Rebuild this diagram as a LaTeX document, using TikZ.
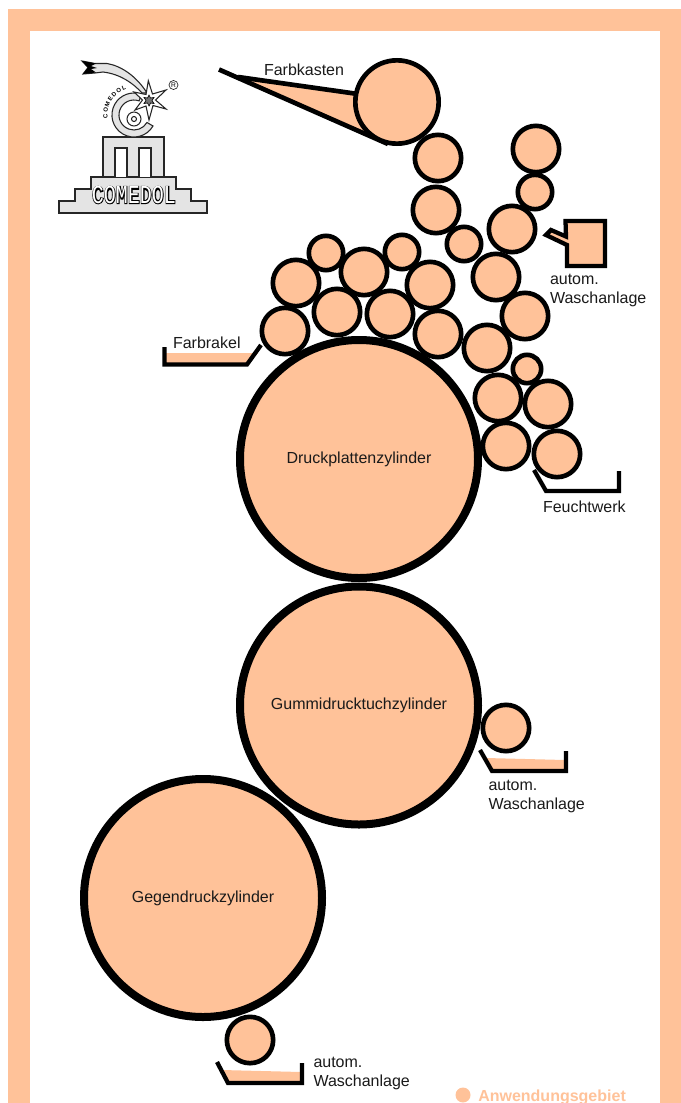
\documentclass[tikz,border=0pt]{standalone}
\usetikzlibrary{decorations.text}
\usepackage{fontspec}
\setmainfont{Liberation Sans}
\newfontfamily\logoout[FakeBold=4]{Liberation Mono}
\newfontfamily\logoin{Liberation Mono}
\definecolor{peach}{HTML}{FFC299}
\definecolor{logogray}{HTML}{E4E4E4}
\definecolor{ink}{HTML}{1A1A1A}
\tikzset{
  x=0.75pt,y=-0.75pt,
  roller/.style={circle,draw=black,fill=peach,line width=3.5pt,minimum size=#1*0.75pt-3.5pt,inner sep=0pt,outer sep=0pt},
  bigroller/.style={circle,draw=black,fill=peach,line width=6pt,minimum size=#1*0.75pt-6pt,inner sep=0pt,outer sep=0pt,text=ink,font=\fontsize{12pt}{14pt}\selectfont},
  lbl/.style={font=\fontsize{12pt}{14pt}\selectfont,text=ink,inner sep=0pt,outer sep=0pt},
  lbl2/.style={lbl,align=left,anchor=north west},
  trough/.style={draw=black,line width=3.2pt,line join=miter,line cap=butt},
  liquid/.style={fill=peach,draw=none},
  lg/.style={draw=black!85,fill=logogray,line width=0.8pt},
  lw/.style={draw=black!85,fill=white,line width=0.8pt},
  logoword/.style={inner sep=0pt,yscale=1.3,transform shape},
}
\begin{document}
\begin{tikzpicture}
\useasboundingbox (0,0) rectangle (681,1103);
% frame
\fill[peach] (8,9) rectangle (681,1103);
\fill[white] (30,31) rectangle (660,1103);

% logo
\path[lg] (59,213) -- (59,201) -- (75,201) -- (75,189) -- (91,189) -- (91,177) -- (176,177) -- (176,189) -- (191,189) -- (191,201) -- (207,201) -- (207,213) -- cycle;
\path[lg] (103,177) -- (103,137) -- (164,137) -- (164,177) -- cycle;
\path[lw] (115,177) -- (115,148) -- (127,148) -- (127,177);
\path[lw] (139,177) -- (139,148) -- (151,148) -- (151,177);
\node[logoword,font=\logoout\bfseries\fontsize{15pt}{16pt}\selectfont,text=black] (logoA) at (134,195) {COMEDOL};
\node[logoword,font=\logoin\fontsize{15pt}{16pt}\selectfont,text=white] (logoB) at (134,195) {COMEDOL};
% C emblem
\path[lg] (153,126) arc (30:290:22) -- (139.1,100.9) arc (290:30:15) -- cycle;
\draw[black!85,line width=0.8pt,fill=white] (134,119) circle (7);
\draw[black!85,line width=0.8pt,fill=white] (134,119) circle (2.5);
\path[decorate,decoration={text along path,text align={fit to path},text={|\fontsize{4.5pt}{5pt}\selectfont\bfseries|COMEDOL}}] (107.6,118.2) arc (173:253:26.6);
% comet tail
\path[lg] (82,61) -- (95,63.5) -- (107,63.5) .. controls (122,66) and (137,77) .. (147,93) -- (142,93) .. controls (133,83) and (120,74) .. (103,72) -- (95,73) -- (83,74) -- (88,67.5) -- cycle;
\fill[black] (82,61) -- (96,63.5) -- (91,66) -- (97,68) -- (91,69) -- (96,72.5) -- (83,74) -- (88,67.5) -- cycle;
% star
\path[lw] (148.3,80.7) -- (152.5,94) -- (166,90) -- (155.5,100) -- (166,109) -- (153,105.5) -- (149,120) -- (146,106) -- (135,110) -- (142.5,100) -- (134,92) -- (146,94.5) -- cycle;
\path[draw=black,fill=black!55,line width=0.5pt] (149,95) -- (150.5,98) -- (154,97.5) -- (152,100.5) -- (154,103.5) -- (150.5,103) -- (149,106) -- (147.5,103) -- (144,103.5) -- (146,100.5) -- (144,97.5) -- (147.5,98) -- cycle;
\draw[black!85,line width=0.5pt] (173.5,85) circle (4.5);
\node[inner sep=0pt,font=\fontsize{5pt}{5pt}\selectfont,text=black] (reg) at (173.5,85) {R};

% Farbkasten
\coordinate (fkTip) at (219,69.5);
\coordinate (fkA) at (238,77);
\coordinate (fkB) at (358,94);
\coordinate (fkC) at (388,144);
\path[liquid] (fkA) -- (fkB) -- (fkC) -- cycle;
\draw[black,line width=3.5pt] (fkTip) -- (fkC);
\draw[black,line width=3.5pt] (fkA) -- (fkB);
\node[lbl,anchor=west] (farbkasten) at (264,69.5) {Farbkasten};

% Waschanlage upper: box
\draw[trough,fill=peach] (565.5,221) -- (605,221) -- (605,266) -- (567,266) -- (567,245) -- (546,235) -- (551,230) -- (566,236.5) -- cycle;
\node[lbl2] (wasch1) at (550,274) {autom.\\Waschanlage};

% Farbrakel
\path[liquid] (165,353) -- (258,353) -- (247,364) -- (165,364) -- cycle;
\coordinate (frA) at (164.5,347);
\coordinate (frB) at (164.5,364.5);
\coordinate (frC) at (247,364.5);
\coordinate (frD) at (261,345);
\draw[trough] (frA) -- (frB) -- (frC) -- (frD);
\node[lbl,anchor=west] (farbrakel) at (173,342.5) {Farbrakel};

% Rollers
\foreach \n/\xx/\yy/\d in {
 a/438/158/51, b/436/210/51, c/464/244/39, d/512/229/51, e/535/192/39, f/536/149/51,
 g/496/277/51, h/525/316/51, i/487/348/51, j/527/369/33, k/498/398/51, l/548/404/51,
 m/506/446/51, n/557/454/51,
 o/326/253/39, p/402/252/39, q/296/283/51, r/364/272/51, s/430/285/51, t/337/312/51,
 u/390/314/51, v/438/334/51, w/285/331/51}
 {\node[roller=\d] (r\n) at (\xx,\yy) {};}
\node[roller=88] (fk) at (397,102) {};

\node[bigroller=246] (druck) at (359,459) {Druckplattenzylinder};
\node[bigroller=246] (gummi) at (359,705.5) {Gummidrucktuchzylinder};
\node[bigroller=246] (gegen) at (203,898) {Gegendruckzylinder};

% Feuchtwerk
\coordinate (fwA) at (534,470);
\coordinate (fwB) at (546,491);
\coordinate (fwC) at (619,491);
\coordinate (fwD) at (619,471);
\draw[trough] (fwA) -- (fwB) -- (fwC) -- (fwD);
\node[lbl,anchor=west] (feucht) at (543,506.5) {Feuchtwerk};

% Wash at Gummi
\node[roller=51] (wg) at (506,728) {};
\path[liquid] (486,758) -- (565,760) -- (565,770) -- (493,770) -- cycle;
\coordinate (wgA) at (480,750);
\coordinate (wgB) at (492,771);
\coordinate (wgC) at (566,771);
\coordinate (wgD) at (566,751);
\draw[trough] (wgA) -- (wgB) -- (wgC) -- (wgD);
\node[lbl2] (wasch2) at (488.5,780) {autom.\\Waschanlage};

% Wash at Gegendruck
\node[roller=51] (wh) at (250,1040) {};
\path[liquid] (222,1070) -- (301,1072) -- (301,1082) -- (229,1082) -- cycle;
\coordinate (whA) at (217,1062);
\coordinate (whB) at (228,1083);
\coordinate (whC) at (302,1083);
\coordinate (whD) at (302,1063);
\draw[trough] (whA) -- (whB) -- (whC) -- (whD);
\node[lbl2] (wasch3) at (313.5,1057) {autom.\\Waschanlage};

% legend
\fill[peach] (463,1095) circle (7.5);
\node[inner sep=0pt,anchor=west,text=peach,font=\fontsize{12pt}{14pt}\selectfont\bfseries] (leg) at (478,1097) {Anwendungsgebiet};
\end{tikzpicture}
\end{document}
